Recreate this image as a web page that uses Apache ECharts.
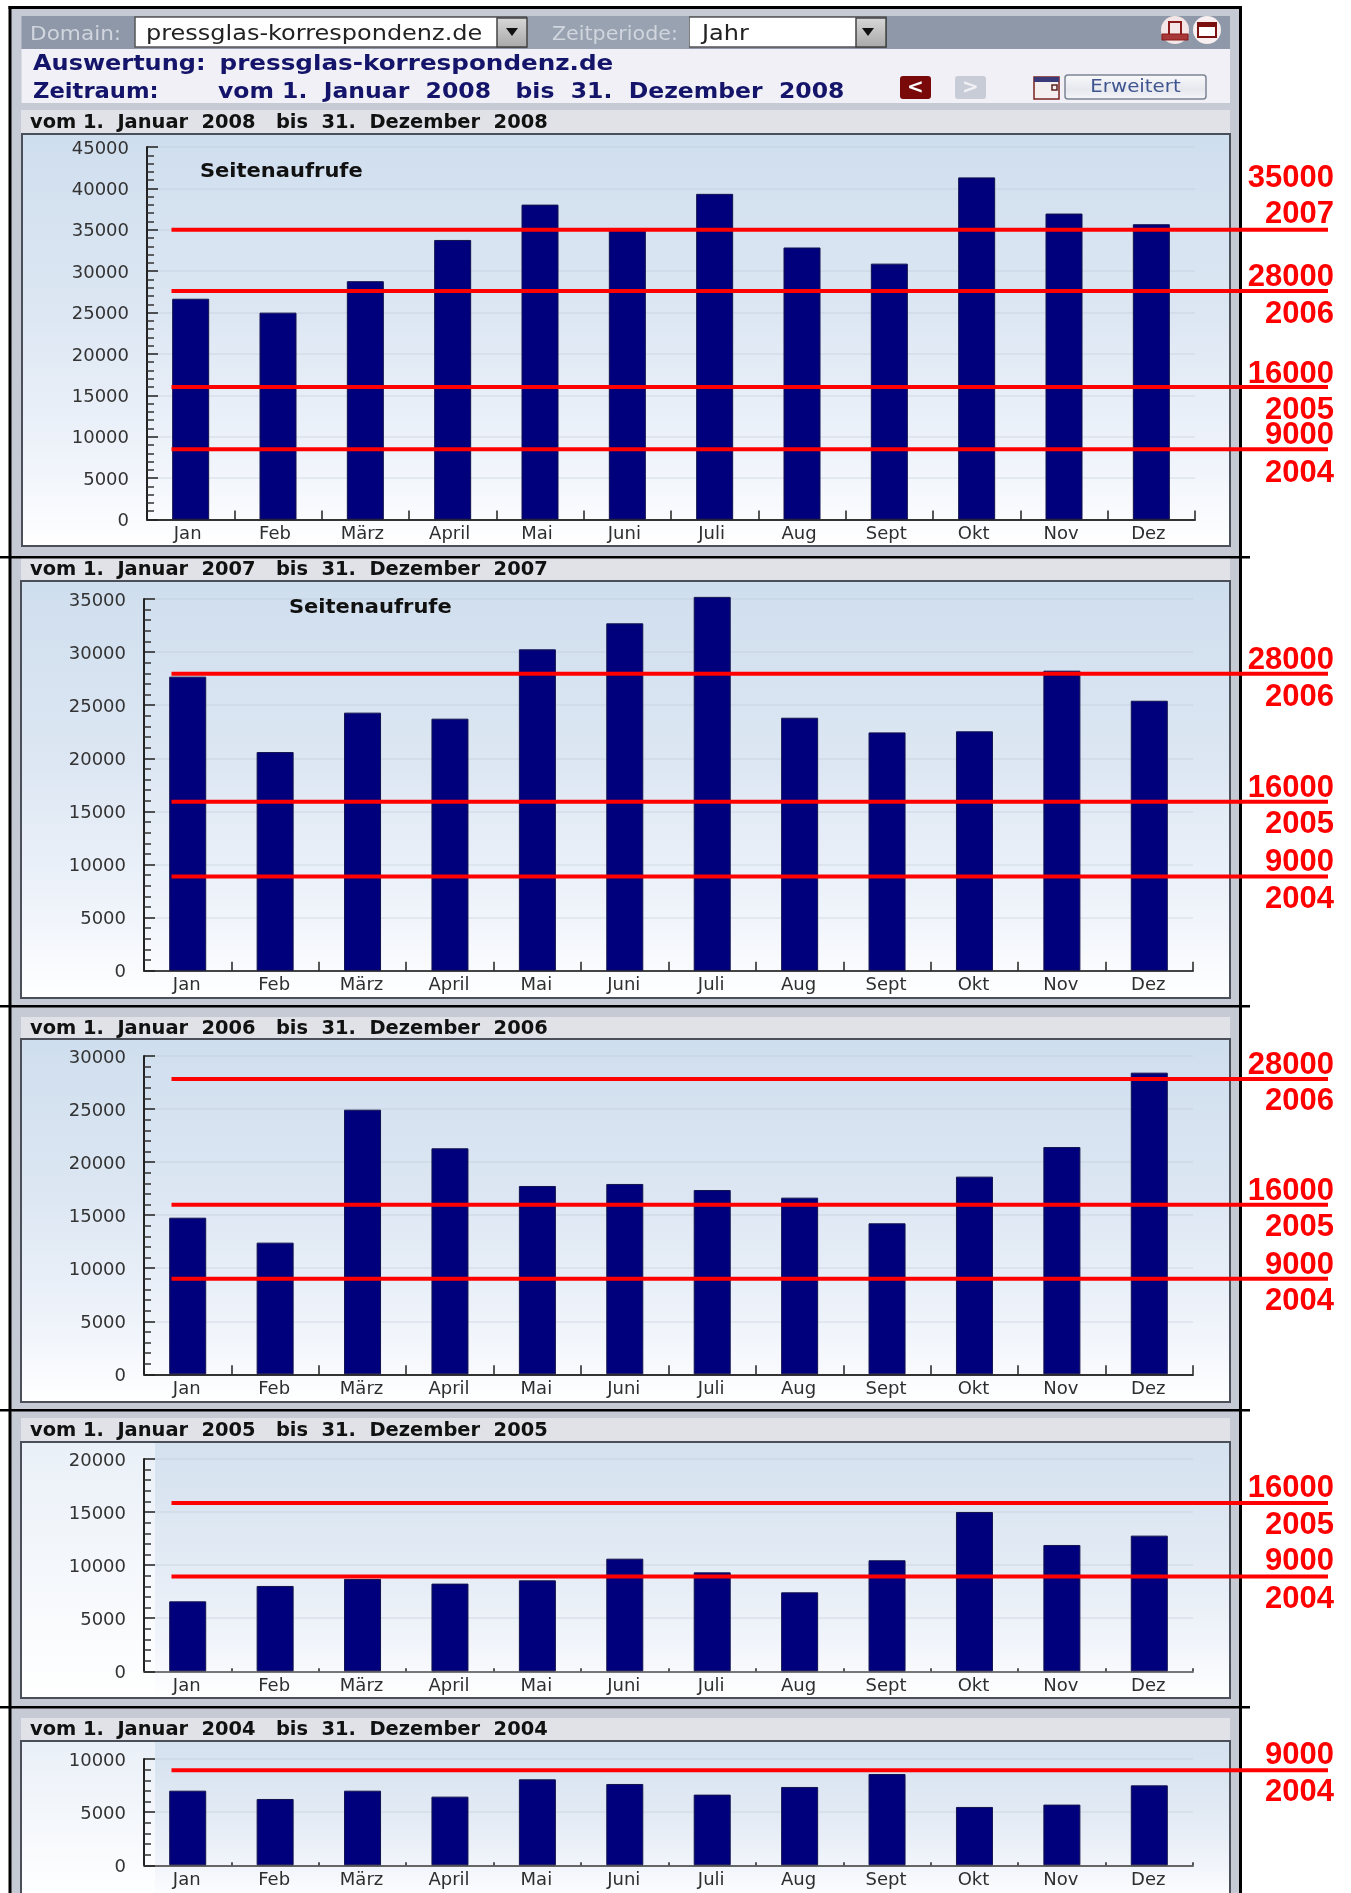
<!DOCTYPE html>
<html><head><meta charset="utf-8">
<style>html,body{margin:0;padding:0;background:#fff}#c{width:1351px;height:1893px}</style>
<script src="https://cdn.jsdelivr.net/npm/echarts@6/dist/echarts.min.js"></script>
</head><body><div id="c"></div>
<script>
const months = ['Jan','Feb','März','April','Mai','Juni','Juli','Aug','Sept','Okt','Nov','Dez'];
const views2008 = [26670,24990,28790,33770,38040,35150,39340,32860,30910,41330,36960,35670];
const views2007 = [27690,20590,24300,23730,30260,32710,35200,23820,22440,22540,28250,25420];
const views2006 = [14760,12410,24940,21300,17750,17940,17370,16650,14230,18630,21420,28430];
const views2005 = [6590,8040,8700,8260,8570,10610,9320,7440,10460,15010,11900,12780];
const views2004 = [7020,6240,7020,6460,8090,7650,6650,7370,8590,5490,5710,7520];
const levels2008 = [35000,27600,16000,8500];
const levels2007 = [27950,15900,8880];
const levels2006 = [27830,15990,9017];
const levels2005 = [15860,8920];
const levels2004 = [8930];
const axisMax = [45000,35000,30000,20000,10000];
const panelYears = ['2008','2007','2006','2005','2004'];
const levelLabels2008 = ['35000','2007','28000','2006','16000','2005','9000','2004'];
const levelLabels2007 = ['28000','2006','16000','2005','9000','2004'];
const levelLabels2006 = ['28000','2006','16000','2005','9000','2004'];
const levelLabels2005 = ['16000','2005','9000','2004'];
const levelLabels2004 = ['9000','2004'];

// page layout (pixels)
const layout = [
  {barTop:110,frameTop:134,frameBot:546,frameL:22,axisTop:147,axisBot:519.5,axisL:147,axisR:1195,tick:9,axisCol:'#333',padR:6,labelY:[178,214.5,277,314,374,410,435,473],sub:[200,172]},
  {barTop:558,frameTop:581,frameBot:998,frameL:21,axisTop:599,axisBot:970.7,axisL:144,axisR:1193,tick:9,axisCol:'#444',padR:2,labelY:[660,697,788,824,862,899],sub:[289,608]},
  {barTop:1017,frameTop:1039,frameBot:1402,frameL:21,axisTop:1056,axisBot:1374.3,axisL:144,axisR:1193,tick:9,axisCol:'#333',padR:2,labelY:[1065,1101,1191,1227,1265,1301]},
  {barTop:1418,frameTop:1442,frameBot:1698,frameL:21,axisTop:1459,axisBot:1671.3,axisL:144,axisR:1193,tick:3,axisCol:'#777',padR:2,strip:true,labelY:[1488,1525,1561,1599]},
  {barTop:1718,frameTop:1741,frameBot:1900,frameL:21,axisTop:1759,axisBot:1865.3,axisL:144,axisR:1193,tick:3,axisCol:'#666',padR:2,strip:true,labelY:[1755,1792]}
];
const LINE_L = 171.5, LINE_R = 1328;
const separators = [557,1006,1410,1707];
const viewsByPanel = [views2008,views2007,views2006,views2005,views2004];
const levelsByPanel = [levels2008,levels2007,levels2006,levels2005,levels2004];
const labelsByPanel = [levelLabels2008,levelLabels2007,levelLabels2006,levelLabels2005,levelLabels2004];

const FONT = '"DejaVu Sans"';
const g = [];
const rect = (x,y,w,h,fill,extra={}) => g.push({type:'rect',z:extra.z!==undefined?extra.z:-20,silent:true,shape:{x,y,width:w,height:h,r:extra.r||0},style:{fill,stroke:extra.stroke,lineWidth:extra.lw||0}});
const text = (x,y,t,font,fill,align='left',sx=1,z=50) => g.push({type:'text',z,silent:true,x,y,scaleX:sx,style:{text:t,font,fill,textAlign:align,textVerticalAlign:'middle'}});
const vgrad = (stops) => ({type:'linear',x:0,y:0,x2:0,y2:1,colorStops:stops.map(([offset,color])=>({offset,color}))});

// outer frame
rect(10,7,1231,1890,'#c6cad5',{z:-30});
rect(8.5,6,3,1890,'#000',{z:-19}); rect(1239,6,3,1890,'#000',{z:-19}); rect(8.5,6,1233.5,3,'#000',{z:-19});
// top bar
rect(21.5,16,1208.5,33,'#8e98a8');
rect(21.5,49,1208.5,54,'#f0f0f6');
rect(135,17,392,30,'#fff',{stroke:'#555',lw:1.5});
rect(497,18,30,29,vgrad([[0,'#d8d8d8'],[1,'#a8a8a8']]),{stroke:'#444',lw:1.5,z:-18});
g.push({type:'polygon',z:40,silent:true,shape:{points:[[506,28],[518,28],[512,36]]},style:{fill:'#111'}});
rect(689,17,197,30,'#fff',{stroke:'#555',lw:1.5});
rect(856,18,30,29,vgrad([[0,'#d8d8d8'],[1,'#a8a8a8']]),{stroke:'#444',lw:1.5,z:-18});
g.push({type:'polygon',z:40,silent:true,shape:{points:[[862,28],[874,28],[868,36]]},style:{fill:'#111'}});
rect(527,16,162,33,'#98a2b0',{z:-19});
text(30,34.5,'Domain:','20px '+FONT,'#d0d5de','left',1.08);
text(146,34.5,'pressglas-korrespondenz.de','20.5px '+FONT,'#222','left',1.17);
text(552,34.5,'Zeitperiode:','20px '+FONT,'#d0d5de','left',1.03);
text(702,34.5,'Jahr','20.5px '+FONT,'#222','left',1.17);
const NAVY='#14146a';
text(33,64,'Auswertung:','bold 22px '+FONT,NAVY,'left',1.09);
text(219.5,64,'pressglas-korrespondenz.de','bold 22px '+FONT,NAVY,'left',1.12);
text(33,92,'Zeitraum:','bold 22px '+FONT,NAVY,'left',1.03);
text(218,92,'vom 1.  Januar  2008   bis  31.  Dezember  2008','bold 22px '+FONT,NAVY,'left',1.068);
// nav
rect(900,76,31,23,'#7a0a0a',{r:3});
text(915.5,87.5,'<','bold 20px '+FONT,'#fff','center');
rect(955,76,31,23,'#c8ccd6',{r:3});
text(970.5,87.5,'>','bold 20px '+FONT,'#f0f0f5','center');
rect(1034,77,25,22,'#f4eeee',{stroke:'#7a2020',lw:1.5,z:-18});
rect(1034,77,25,5,'#3a3a78',{z:-17});
g.push({type:'rect',z:30,silent:true,shape:{x:1052,y:85,width:5,height:5},style:{fill:'none',stroke:'#5a2020',lineWidth:1.5}});
rect(1065,75,141,24,vgrad([[0,'#fafafc'],[.6,'#e6e8ee'],[1,'#f6f6fa']]),{stroke:'#7c8494',lw:1.5,r:3});
text(1135.5,87,'Erweitert','18px '+FONT,'#3f5590','center',1.1);
// print + window icons
g.push({type:'circle',z:30,silent:true,shape:{cx:1175,cy:30,r:14},style:{fill:'#f4e6e6'}});
g.push({type:'circle',z:30,silent:true,shape:{cx:1207,cy:30,r:14},style:{fill:'#f8f0f0'}});
g.push({type:'rect',z:31,silent:true,shape:{x:1169,y:22,width:12,height:13},style:{fill:'none',stroke:'#8a1a1a',lineWidth:2}});
g.push({type:'rect',z:31,silent:true,shape:{x:1162,y:34,width:26,height:6},style:{fill:'#a83838',stroke:'#8a1a1a',lineWidth:1}});
g.push({type:'rect',z:31,silent:true,shape:{x:1198,y:23,width:18,height:14},style:{fill:'#fff',stroke:'#7a1010',lineWidth:2}});
g.push({type:'rect',z:31,silent:true,shape:{x:1198,y:23,width:18,height:4},style:{fill:'#7a1010'}});

// panels
layout.forEach((p,i)=>{
  const y = panelYears[i];
  rect(21,p.barTop,1209,p.frameTop-p.barTop,'#e1e2e8');
  text(30,p.barTop+(p.frameTop-p.barTop)/2+1,'vom 1.  Januar  '+y+'   bis  31.  Dezember  '+y,'bold 19px '+FONT,'#111','left',1.022);
  rect(p.frameL,p.frameTop,1230-p.frameL,p.frameBot-p.frameTop,
    p.strip?vgrad([[0,'#d4e1ef'],[.45,'#e2eaf4'],[.8,'#f2f5fb'],[1,'#ffffff']]):vgrad([[0,'#cfdeee'],[.45,'#dde7f3'],[.8,'#f0f4fb'],[1,'#ffffff']]),{stroke:'#4a4f5a',lw:2,z:-15});
  if(p.strip) rect(p.frameL+1,p.frameTop+1,133,p.frameBot-p.frameTop-2,vgrad([[0,'#eaf0f8'],[1,'#ffffff']]),{z:-14});
  if(p.sub) text(p.sub[0],p.sub[1],'Seitenaufrufe','bold 20px '+FONT,'#111','left',1.05);
  labelsByPanel[i].forEach((t,j)=>text(1334,p.labelY[j],t,'bold 31px "Liberation Sans"','#f00','right'));
});
separators.forEach(s=>rect(0,s-1,1250,2.5,'#000',{z:60}));

const grid=[],xAxis=[],yAxis=[],series=[];
layout.forEach((p,i)=>{
  const h=p.axisBot-p.axisTop;
  grid.push({left:p.axisL,top:p.axisTop,width:p.axisR-p.axisL,height:h});
  grid.push({left:LINE_L,top:p.axisTop,width:LINE_R-LINE_L,height:h});
  xAxis.push({type:'category',gridIndex:2*i,data:months,
    axisLine:{lineStyle:{color:p.axisCol,width:2}},
    axisTick:{show:true,inside:true,length:p.tick,interval:0,lineStyle:{color:'#222',width:1.5}},
    axisLabel:{interval:0,margin:6,fontFamily:FONT,fontSize:18,color:'#2e2e2e',padding:[0,p.padR,0,0]},splitLine:{show:false}});
  xAxis.push({type:'value',gridIndex:2*i+1,min:0,max:1,show:false});
  yAxis.push({type:'value',gridIndex:2*i,min:0,max:axisMax[i],interval:5000,
    axisLine:{show:true,lineStyle:{color:'#222',width:2}},
    axisTick:{show:true,inside:true,length:11,lineStyle:{color:'#222',width:1.5}},
    minorTick:{show:true,splitNumber:5,length:7,lineStyle:{color:'#333',width:1.5}},
    axisLabel:{margin:18,fontFamily:FONT,fontSize:18,color:'#333',verticalAlign:'top',padding:[-7,0,0,0],formatter:v=>String(v)},
    splitLine:{show:true,lineStyle:{color:'rgba(185,195,210,0.35)',width:1.5}}});
  yAxis.push({type:'value',gridIndex:2*i+1,min:0,max:axisMax[i],show:false});
  series.push({type:'bar',xAxisIndex:2*i,yAxisIndex:2*i,data:viewsByPanel[i],barWidth:37,clip:false,z:3,
    itemStyle:{color:'#00007c',borderColor:'#12124e',borderWidth:1},
    silent:true,animation:false});
  levelsByPanel[i].forEach(v=>series.push({type:'line',xAxisIndex:2*i+1,yAxisIndex:2*i+1,data:[[0,v],[1,v]],symbol:'none',clip:false,z:10,silent:true,animation:false,lineStyle:{color:'#ff0000',width:4}}));
});

const chart=echarts.init(document.getElementById('c'),null,{renderer:'canvas'});
chart.setOption({animation:false,backgroundColor:'#fff',grid,xAxis,yAxis,series,graphic:{elements:g}});
</script></body></html>
